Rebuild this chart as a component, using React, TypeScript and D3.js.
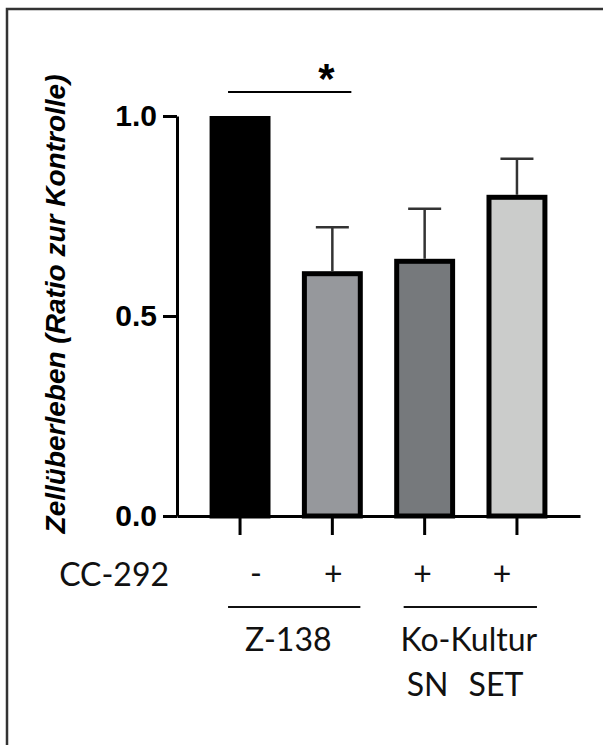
import React, { useRef, useEffect } from "react";
import * as d3 from "d3";

// bar groups, left to right
const groups = ["Z-138 -", "Z-138 +", "SN +", "SET +"];
const means = [1.0, 0.612, 0.643, 0.803];
const sem = [0, 0.11, 0.125, 0.09];
const fills = ["#000000", "#96989c", "#76797c", "#cbcccb"];
const treatment = ["-", "+", "+", "+"];
const yTicks = [0, 0.5, 1.0];

const W = 603;
const H = 745;

const App = () => {
    const svgRef = useRef<SVGSVGElement>(null);

    useEffect(() => {
        const svg = d3.select(svgRef.current);
        svg.selectAll("*").remove();

        const x = d3
            .scaleBand()
            .domain(groups)
            .range([177, 580])
            .paddingInner(0.34)
            .paddingOuter(0.353);

        const y = d3.scaleLinear().domain([0, 1]).range([516, 116]);
        const cx = (i: number) => (x(groups[i]) as number) + x.bandwidth() / 2;

        // frame
        svg.append("rect")
            .attr("x", 7)
            .attr("y", 9)
            .attr("width", W + 20)
            .attr("height", H + 20)
            .attr("fill", "white")
            .attr("stroke", "#333")
            .attr("stroke-width", 2.5);

        // bars
        const sw = 5;
        svg.selectAll(".bar")
            .data(means)
            .enter()
            .append("rect")
            .attr("class", "bar")
            .attr("x", (d, i) => (x(groups[i]) as number) + sw / 2)
            .attr("y", d => y(d) + sw / 2)
            .attr("width", x.bandwidth() - sw)
            .attr("height", d => y(0) - y(d) - sw / 2)
            .attr("fill", (d, i) => fills[i])
            .attr("stroke", "#000")
            .attr("stroke-width", sw);

        // error bars (upper only)
        const cap = 33;
        const eb = svg.append("g").attr("stroke", "#333").attr("stroke-width", 2.5);
        means.forEach((m, i) => {
            if (!sem[i]) return;
            eb.append("line")
                .attr("x1", cx(i)).attr("x2", cx(i))
                .attr("y1", y(m)).attr("y2", y(m + sem[i]));
            eb.append("line")
                .attr("x1", cx(i) - cap / 2).attr("x2", cx(i) + cap / 2)
                .attr("y1", y(m + sem[i])).attr("y2", y(m + sem[i]));
        });

        // y axis
        const ya = svg.append("g")
            .attr("transform", "translate(177,0)")
            .call(
                d3.axisLeft(y)
                    .tickValues(yTicks)
                    .tickFormat(d3.format(".1f"))
                    .tickSize(14)
                    .tickSizeOuter(0)
                    .tickPadding(6)
            );
        ya.selectAll("path, line").attr("stroke", "#000").attr("stroke-width", 3);
        ya.selectAll("text")
            .attr("font-family", "'Liberation Sans', Arial, sans-serif")
            .attr("font-weight", "bold")
            .attr("font-size", 30)
            .attr("fill", "#000");

        // x axis
        const xa = svg.append("g")
            .attr("transform", "translate(0,516)")
            .call(d3.axisBottom(x).tickSize(19).tickSizeOuter(0).tickFormat(() => ""));
        xa.selectAll("path, line").attr("stroke", "#000").attr("stroke-width", 3);

        // y label
        svg.append("text")
            .attr("transform", "translate(65,304) rotate(-90)")
            .attr("text-anchor", "middle")
            .attr("font-family", "'Liberation Sans', Arial, sans-serif")
            .attr("font-weight", "bold")
            .attr("font-style", "italic")
            .attr("font-size", 28)
            .attr("fill", "#000")
            .text("Zellüberleben (Ratio zur Kontrolle)");

        // significance
        svg.append("line")
            .attr("x1", cx(0) - 12).attr("x2", cx(1) + 19)
            .attr("y1", y(1.06)).attr("y2", y(1.06))
            .attr("stroke", "#000").attr("stroke-width", 2);
        svg.append("text")
            .attr("x", cx(1) - 6)
            .attr("y", y(1.06) + 1)
            .attr("text-anchor", "middle")
            .attr("font-family", "'Liberation Sans', Arial, sans-serif")
            .attr("font-weight", "bold")
            .attr("font-size", 42)
            .attr("fill", "#000")
            .text("*");

        // lower labels
        const font = "Lato, 'Open Sans', sans-serif";
        const lab = svg.append("g")
            .attr("font-family", font)
            .attr("font-size", 32)
            .attr("fill", "#111");

        lab.append("text").attr("x", 169).attr("y", 586)
            .attr("text-anchor", "end").text("CC-292");

        const nudge = [16, 1, -2, -15];
        lab.selectAll(".tr")
            .data(treatment)
            .enter()
            .append("text")
            .attr("class", "tr")
            .attr("x", (d, i) => cx(i) + nudge[i])
            .attr("y", 585)
            .attr("text-anchor", "middle")
            .text(d => d);

        const gl = svg.append("g").attr("stroke", "#111").attr("stroke-width", 2);
        gl.append("line").attr("x1", cx(0) - 12).attr("x2", cx(1) + 28).attr("y1", 607).attr("y2", 607);
        gl.append("line").attr("x1", cx(2) - 21).attr("x2", cx(3) + 20).attr("y1", 607).attr("y2", 607);

        lab.append("text").attr("x", (cx(0) + cx(1)) / 2 + 2).attr("y", 651)
            .attr("text-anchor", "middle").text("Z-138");
        lab.append("text").attr("x", (cx(2) + cx(3)) / 2 - 2).attr("y", 651)
            .attr("text-anchor", "middle").text("Ko-Kultur");
        lab.append("text").attr("x", cx(2) + 3).attr("y", 696)
            .attr("text-anchor", "middle").text("SN");
        lab.append("text").attr("x", cx(3) - 21).attr("y", 696)
            .attr("text-anchor", "middle").text("SET");
    }, []);

    return (
        <svg
            ref={svgRef}
            width={W}
            height={H}
            style={{ position: "absolute", left: 0, top: 0, background: "white" }}
        />
    );
};

export default App;
